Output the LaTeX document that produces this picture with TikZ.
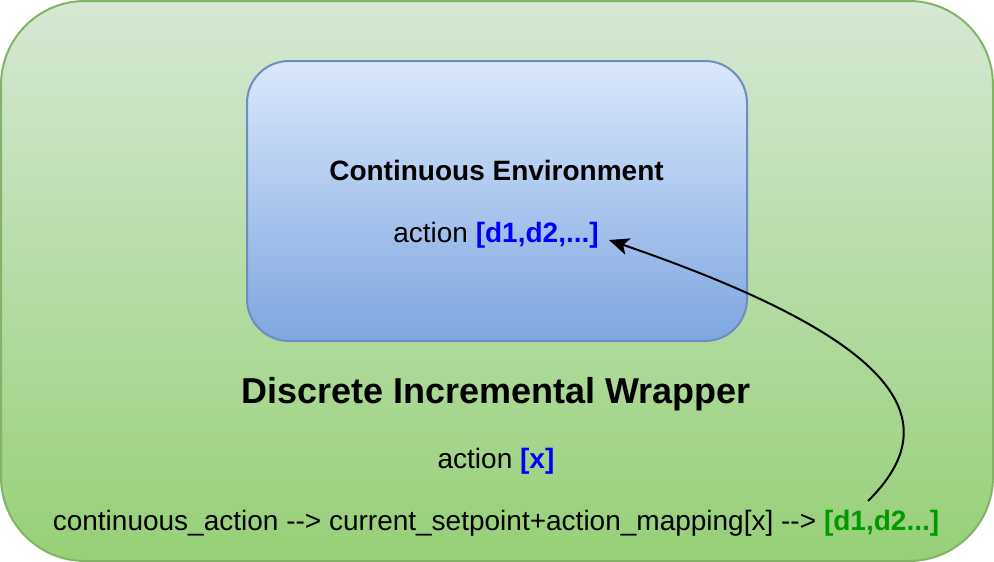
\documentclass[tikz,border=0pt]{standalone}
\usepackage{fontspec}
\setmainfont{Liberation Sans}
\usetikzlibrary{arrows.meta}
\definecolor{outerTop}{HTML}{D5E8D4}
\definecolor{outerBot}{HTML}{97D077}
\definecolor{outerLine}{HTML}{82B366}
\definecolor{innerTop}{HTML}{DAE8FC}
\definecolor{innerBot}{HTML}{7EA6E0}
\definecolor{innerLine}{HTML}{6C8EBF}
\definecolor{txtBlue}{HTML}{0000FF}
\definecolor{txtGreen}{HTML}{009900}
\tikzset{
  boxstyle/.style={draw, line width=2pt, inner sep=0pt, outer sep=0pt},
  label28/.style={anchor=base, inner sep=0pt, font=\fontsize{28}{34}\selectfont},
  label36/.style={anchor=base, inner sep=0pt, font=\fontsize{36}{42}\selectfont\bfseries},
  link/.style={line width=2pt, -{Stealth[length=20pt, width=17pt, inset=5pt]}}
}
\begin{document}
\begin{tikzpicture}[x=1pt, y=-1pt]
\useasboundingbox (0,0) rectangle (994,562);
\node[boxstyle, draw=outerLine, top color=outerTop, bottom color=outerBot,
      rounded corners=84pt, minimum width=992pt, minimum height=560pt] (outer) at (497,281) {};
\node[boxstyle, draw=innerLine, top color=innerTop, bottom color=innerBot,
      rounded corners=42pt, minimum width=500pt, minimum height=280pt] (inner) at (497,201) {};
\node[label28, font=\fontsize{28}{34}\selectfont\bfseries] (envtitle) at (496.5,180) {Continuous Environment};
\node[label28] (envaction) at (496,242) {action \textbf{\color{txtBlue}[d1,d2,...]}};
\node[label36] (wraptitle) at (496,403) {Discrete Incremental Wrapper};
\node[label28] (wrapaction) at (496,468) {action \textbf{\color{txtBlue}[x]}};
\node[label28] (mapping) at (496,530) {continuous\_action -{}-> current\_setpoint+action\_mapping[x] -{}-> \textbf{\color{txtGreen}[d1,d2...]}};
\coordinate (src) at (868,501);
\coordinate (dst) at (609,240);
\draw[link] (src) .. controls (950,420) and (900,340) .. (dst);
\end{tikzpicture}
\end{document}
